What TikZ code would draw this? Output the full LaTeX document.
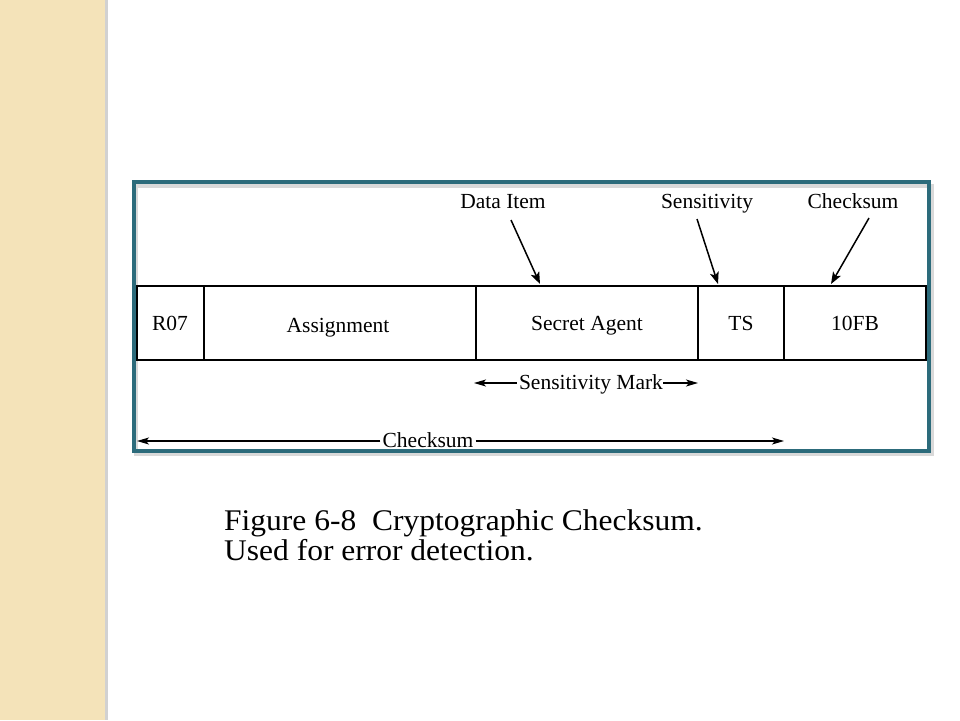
\documentclass[tikz,border=0pt]{standalone}
\usepackage{fontspec}
\setmainfont{Liberation Serif}
\newfontfamily\capfont[FakeStretch=1.05]{Liberation Serif}
\usetikzlibrary{arrows.meta}
\definecolor{beige}{HTML}{F4E3B9}
\definecolor{teal2}{HTML}{2C6B7B}
\tikzset{
  lbl/.style={inner sep=0pt, anchor=base, font=\fontsize{21.5}{25}\selectfont},
  captext/.style={inner sep=0pt, anchor=base west, font=\capfont\fontsize{30}{30}\selectfont},
  cell/.style={draw=black, line width=2.4pt, inner sep=0pt, minimum height=74pt},
  arr/.style={-{Stealth[length=12pt,width=9pt,inset=3pt]}, line width=1.5pt},
  harr/.style={-{Stealth[length=12pt,width=7pt,inset=3pt]}, line width=1.2pt}
}
\begin{document}
\begin{tikzpicture}[x=1pt,y=-1pt]
\useasboundingbox (0,0) rectangle (960,720);
\fill[white] (0,0) rectangle (960,720);
% left strip
\fill[black!18] (104,0) rectangle (108,720);
\fill[beige] (0,0) rectangle (105,720);
% frame shadow and frame
\draw[black!15, line width=4pt] (136,186) rectangle (932,454);
\draw[teal2, line width=4pt] (134,182) rectangle (929,451);
% cells
\node[cell, minimum width=67pt] (c1) at (170.5,323) {};
\node[cell, minimum width=272pt] (c2) at (340,323) {};
\node[cell, minimum width=222pt] (c3) at (587,323) {};
\node[cell, minimum width=86pt] (c4) at (741,323) {};
\node[cell, minimum width=142pt] (c5) at (855,323) {};
\node[lbl] (t1) at (170,330) {R07};
\node[lbl] (t2) at (338,332) {Assignment};
\node[lbl] (t3) at (587,330) {Secret Agent};
\node[lbl] (t4) at (741,330) {TS};
\node[lbl] (t5) at (855,330) {10FB};
% top labels
\node[lbl] (l1) at (503,208) {Data Item};
\node[lbl] (l2) at (707,208) {Sensitivity};
\node[lbl] (l3) at (853,208) {Checksum};
\coordinate (a1s) at (511,220);
\coordinate (a1e) at (540,284);
\coordinate (a2s) at (697,219);
\coordinate (a2e) at (718,284);
\coordinate (a3s) at (869,218);
\coordinate (a3e) at (831,284);
\draw[arr] (a1s) -- (a1e);
\draw[arr] (a2s) -- (a2e);
\draw[arr] (a3s) -- (a3e);
% sensitivity mark
\node[lbl] (sm) at (591,389) {Sensitivity Mark};
\coordinate (smL) at (474,383);
\coordinate (smR) at (698,383);
\draw[harr] (sm.west |- smL) ++(-2,0) -- (smL);
\draw[harr] (sm.east |- smR) -- (smR);
% checksum
\node[lbl] (ck) at (428,447) {Checksum};
\coordinate (ckL) at (137,441);
\coordinate (ckR) at (784,441);
\draw[harr] (ck.west |- ckL) ++(-2,0) -- (ckL);
\draw[harr] (ck.east |- ckR) ++(2,0) -- (ckR);
% caption
\node[captext] (cap1) at (224,530) {Figure 6-8~~Cryptographic Checksum.};
\node[captext] (cap2) at (224,560) {Used for error detection.};
\end{tikzpicture}
\end{document}
